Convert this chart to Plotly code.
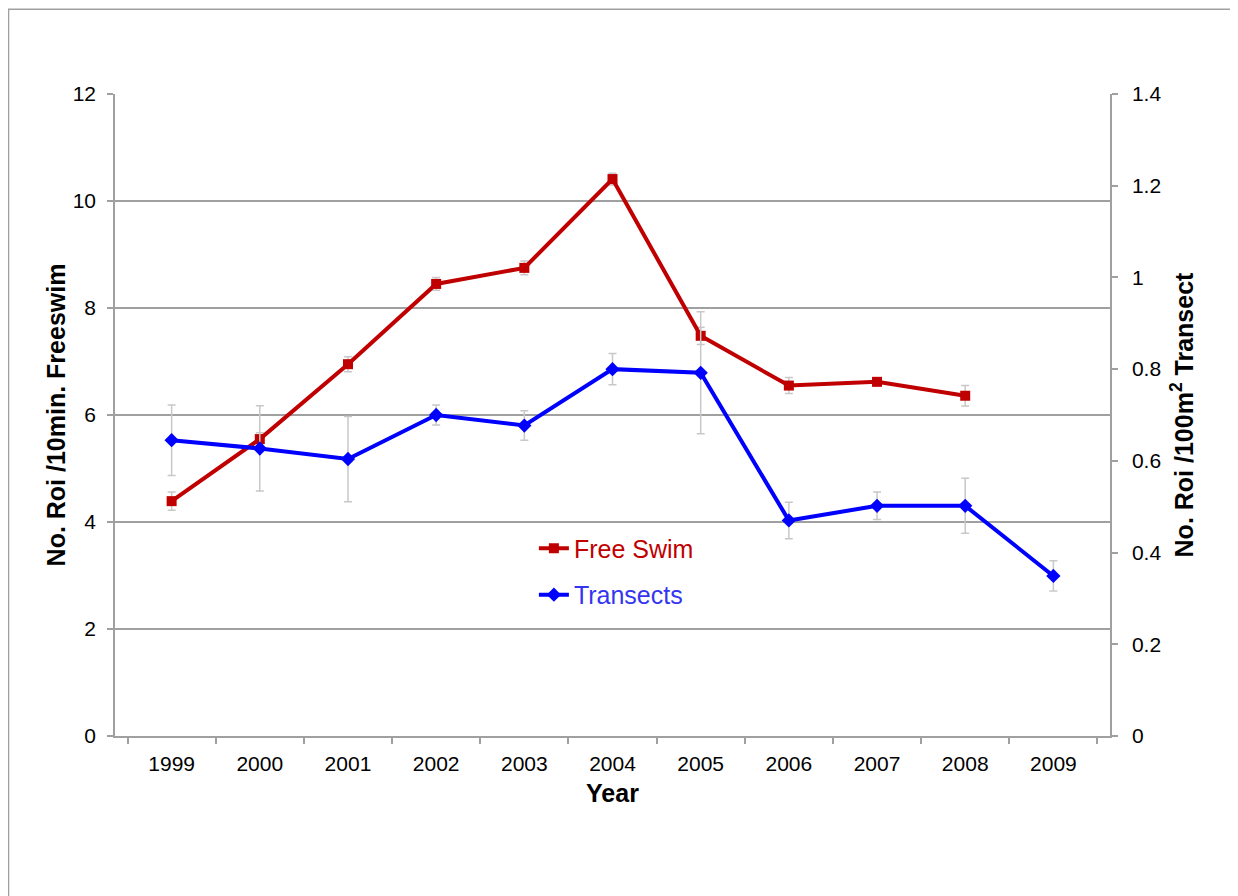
import plotly.graph_objects as go

years = ['1999', '2000', '2001', '2002', '2003', '2004', '2005', '2006', '2007', '2008', '2009']

# Free Swim (left axis), no survey in 2009
free_swim = [4.39, 5.55, 6.95, 8.45, 8.75, 10.41, 7.48, 6.55, 6.62, 6.36, None]
free_swim_err = [0.17, 0.12, 0.14, 0.12, 0.13, 0.11, 0.16, 0.15, 0.07, 0.19, None]

# Transects (right axis)
transects = [0.645, 0.627, 0.604, 0.700, 0.677, 0.800, 0.792, 0.470, 0.502, 0.502, 0.349]
transects_err = [0.077, 0.093, 0.093, 0.022, 0.032, 0.034, 0.133, 0.040, 0.030, 0.060, 0.033]

left_ticks = [0, 2, 4, 6, 8, 10, 12]
right_ticks = [0, 0.2, 0.4, 0.6, 0.8, 1, 1.2, 1.4]

FONT = 'Liberation Sans, Arial, sans-serif'
GRID = '#A0A0A0'
RED = '#C00000'
BLUE = '#0000FF'

fig = go.Figure()

fig.add_trace(go.Scatter(
    x=years, y=free_swim, name='<span style="color:#C00000">Free Swim</span>',
    mode='lines+markers', legendgroup='a',
    line=dict(color=RED, width=4),
    marker=dict(symbol='square', size=10, color=RED),
    error_y=dict(type='data', array=free_swim_err, color='#C8C8C8', thickness=1.5, width=4),
    connectgaps=False,
))

fig.add_trace(go.Scatter(
    x=years, y=transects, name='<span style="color:#3535F0">Transects</span>',
    mode='lines+markers', legendgroup='b', yaxis='y2',
    line=dict(color=BLUE, width=4),
    marker=dict(symbol='diamond', size=11, color=BLUE),
    error_y=dict(type='data', array=transects_err, color='#C8C8C8', thickness=1.5, width=4),
))

fig.update_layout(
    width=1230, height=888,
    margin=dict(l=107, r=128, t=86, b=160, autoexpand=False),
    paper_bgcolor='white', plot_bgcolor='white',
    font=dict(family=FONT, size=21, color='black'),
    showlegend=True,
    legend=dict(x=0.421, y=0.328, xanchor='left', yanchor='top',
                bgcolor='rgba(0,0,0,0)', font=dict(size=25),
                tracegroupgap=11, itemwidth=30),
    xaxis=dict(
        type='category', categoryorder='array', categoryarray=years,
        showline=True, linecolor=GRID, linewidth=1.5,
        ticks='outside', tickson='boundaries', ticklen=6, tickcolor=GRID, tickwidth=1.5,
        ticklabelstandoff=8,
        showgrid=False, zeroline=False,
        tickfont=dict(size=21),
        title=dict(text='<b>Year</b>', font=dict(size=25), standoff=11),
    ),
    yaxis=dict(
        range=[0, 12], tickvals=left_ticks,
        showline=True, linecolor=GRID, linewidth=1.5,
        ticks='outside', ticklen=6, tickcolor=GRID, tickwidth=1.5,
        ticklabelstandoff=7,
        showgrid=True, gridcolor=GRID, gridwidth=1.5, zeroline=False,
        tickfont=dict(size=21),
        title=dict(text='<b>No. Roi /10min. Freeswim</b>', font=dict(size=25), standoff=0),
    ),
    yaxis2=dict(
        range=[0, 1.4], tickvals=right_ticks, overlaying='y', side='right',
        showline=True, linecolor=GRID, linewidth=1.5,
        ticks='outside', ticklen=6, tickcolor=GRID, tickwidth=1.5,
        ticklabelstandoff=10,
        showgrid=False, zeroline=False,
        tickfont=dict(size=21),
        title=dict(text='<b>No. Roi /100m<sup>2</sup> Transect</b>', font=dict(size=25), standoff=15),
    ),
    shapes=[dict(type='rect', xref='paper', yref='paper',
                 x0=-0.107, x1=1.3, y0=-0.5, y1=1.132,
                 line=dict(color='#A0A0A0', width=1.5), fillcolor='rgba(0,0,0,0)', layer='below')],
)

fig.write_html('out.html')
